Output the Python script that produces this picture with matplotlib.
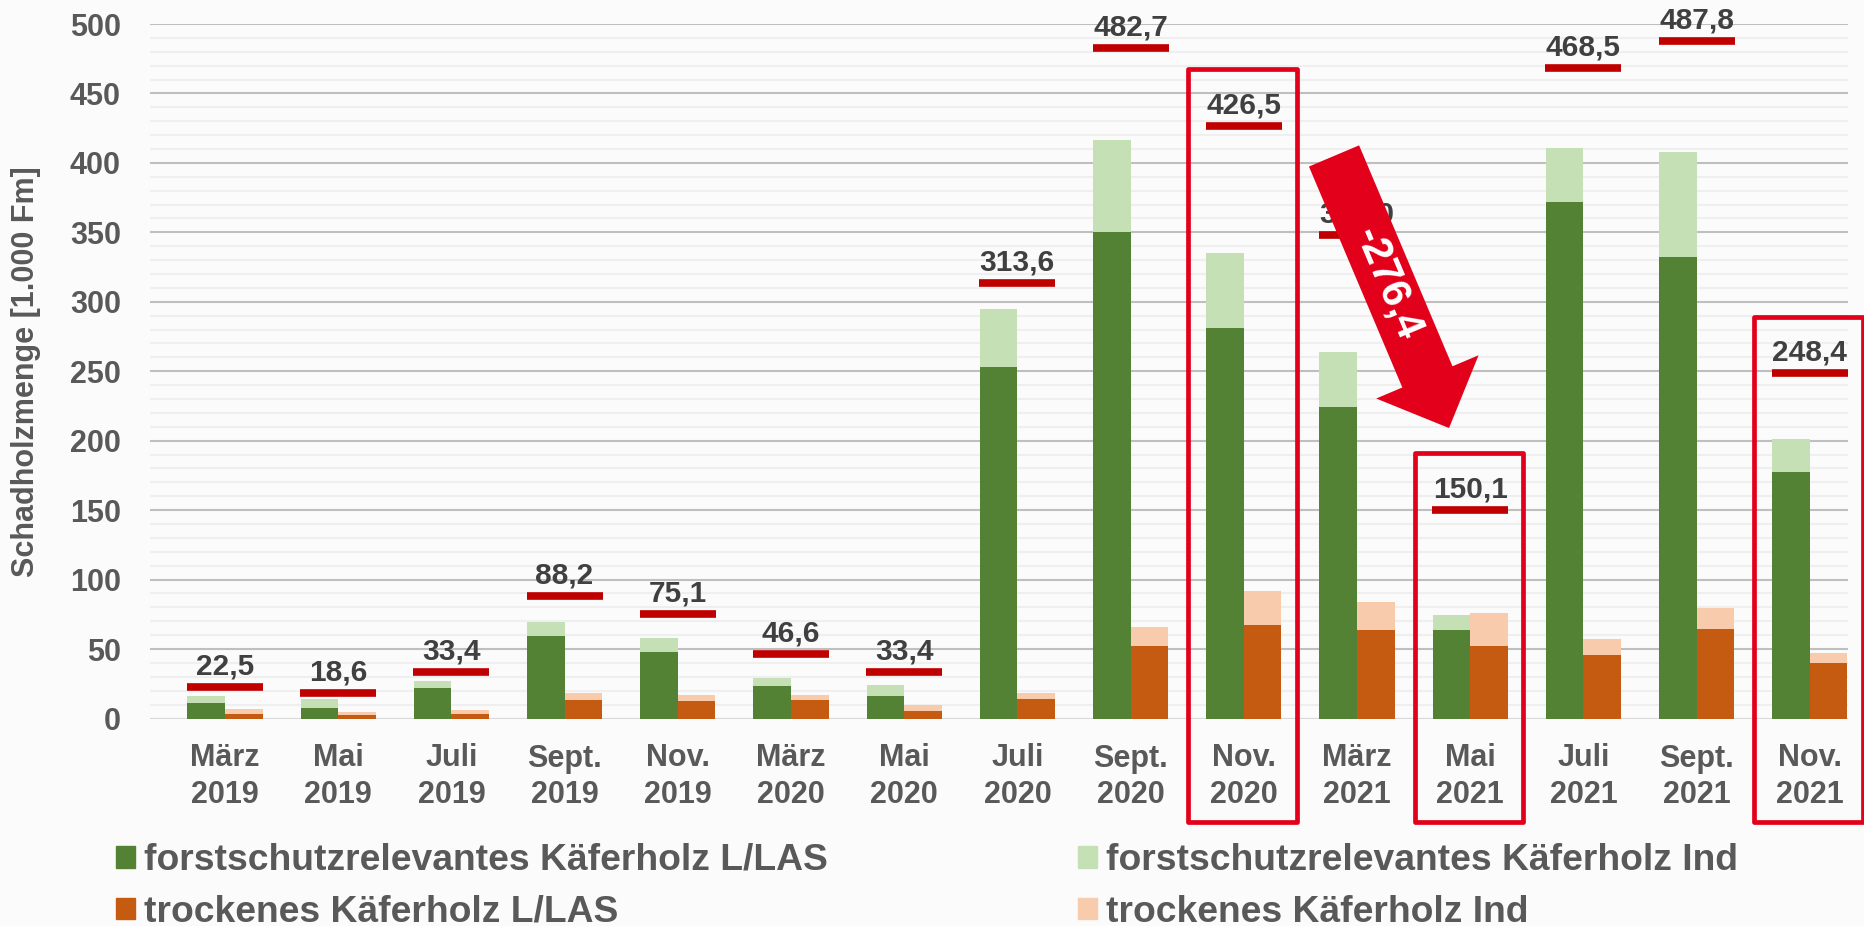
# Schadholzmenge Käferholz 2019-2021
import numpy as np
import matplotlib
matplotlib.use('Agg')
import matplotlib.pyplot as plt
import matplotlib.patches as mpatches

plt.rcParams['font.family'] = ['Liberation Sans', 'DejaVu Sans']
plt.rcParams['font.weight'] = 'bold'

# Data in 1.000 Fm
months = ['März\n2019', 'Mai\n2019', 'Juli\n2019', 'Sept.\n2019', 'Nov.\n2019',
          'März\n2020', 'Mai\n2020', 'Juli\n2020', 'Sept.\n2020', 'Nov.\n2020',
          'März\n2021', 'Mai\n2021', 'Juli\n2021', 'Sept.\n2021', 'Nov.\n2021']
fs_las = [11, 7.5, 22, 59.5, 48, 23.5, 16.5, 253, 350, 281, 224, 64, 372, 332, 177.5]
fs_ind = [5, 6.6, 5, 10, 10, 6, 7.5, 42, 66.5, 54, 40, 10.5, 39, 76, 23.5]
tr_las = [3.5, 2.3, 3, 13.5, 12.5, 13, 5.5, 14, 52, 67, 64, 52.5, 45.5, 64.5, 40]
tr_ind = [3, 2.2, 3.4, 5.2, 4.6, 4.1, 3.9, 4.6, 14.2, 24.5, 20, 23.1, 12, 15.3, 7.4]
totals = [22.5, 18.6, 33.4, 88.2, 75.1, 46.6, 33.4, 313.6, 482.7, 426.5,
          348.0, 150.1, 468.5, 487.8, 248.4]
highlight = [9, 11, 14]
drop_label = '-276,4'

legend_labels = ['forstschutzrelevantes Käferholz L/LAS', 'trockenes Käferholz L/LAS',
                 'forstschutzrelevantes Käferholz Ind', 'trockenes Käferholz Ind']

c_fs_las, c_fs_ind = '#548235', '#C5E0B4'
c_tr_las, c_tr_ind = '#C55A11', '#F8CBAD'
c_total = '#C00000'
c_mark = '#E2001A'
bg = '#FBFBFB'

fig = plt.figure(figsize=(18.64, 9.26), dpi=100, facecolor=bg)
ax = fig.add_axes([150 / 1864, 1 - 718.5 / 926, 1698 / 1864, (718.5 - 24) / 926])
ax.set_facecolor(bg)

x = np.arange(len(months))
w = 0.333
fs_las = np.array(fs_las)
tr_las = np.array(tr_las)
ax.bar(x - w / 2, fs_las, w, color=c_fs_las, zorder=2)
ax.bar(x - w / 2, fs_ind, w, bottom=fs_las, color=c_fs_ind, zorder=2)
ax.bar(x + w / 2, tr_las, w, color=c_tr_las, zorder=2)
ax.bar(x + w / 2, tr_ind, w, bottom=tr_las, color=c_tr_ind, zorder=2)

# totals as red markers with labels
ax.hlines(totals, x - 0.335, x + 0.335, color=c_total, lw=5.5, zorder=4)
for xi, t in zip(x, totals):
    ax.annotate(f'{t:.1f}'.replace('.', ','), (xi, t), xytext=(0, 9),
                textcoords='offset points', ha='center', va='baseline',
                fontsize=21.5, color='#404040', fontweight='bold', zorder=5,
                annotation_clip=False)

# highlight boxes
for i in highlight:
    top = totals[i] + 41
    rect = mpatches.Rectangle((i - 0.49, -74.5), 0.96, top + 74.5, fill=False,
                              edgecolor=c_mark, lw=3.4, joinstyle='round',
                              clip_on=False, zorder=5)
    ax.add_patch(rect)

# big arrow
arrow = mpatches.FancyArrowPatch((9.797, 405), (10.813, 209.1),
                                 arrowstyle=mpatches.ArrowStyle.Simple(head_length=0.5, head_width=1.0, tail_width=0.49),
                                 mutation_scale=80, color=c_mark, lw=0,
                                 shrinkA=0, shrinkB=0, zorder=6, clip_on=False)
ax.add_patch(arrow)
ax.text(10.265, 313.5, drop_label, rotation=-67.1, rotation_mode='anchor',
        ha='center', va='center', color='white', fontsize=30,
        fontweight='bold', zorder=7)

# axes styling
ax.set_xlim((150 - 225) / 113.2, (1848 - 225) / 113.2)
ax.set_ylim(0, 500)
ax.set_yticks(np.arange(0, 501, 50))
ax.set_yticks(np.arange(0, 501, 10), minor=True)
ax.set_xticks(x)
ax.set_xticklabels(months)
for t in ax.get_xticklabels():
    t.set_linespacing(1.3)
ax.tick_params(axis='both', which='both', length=0, labelsize=22, labelcolor='#595959')
ax.tick_params(axis='y', pad=21)
ax.tick_params(axis='x', pad=18)
ax.grid(axis='y', which='major', color='#BFBFBF', lw=1.5, zorder=0)
ax.grid(axis='y', which='minor', color='#EFEFEF', lw=1.5, zorder=0)
ax.axhline(0, color='#D9D9D9', lw=2.2, zorder=1)
ax.set_axisbelow(True)
for s in ax.spines.values():
    s.set_visible(False)

fig.text(26 / 1864, 0.599, 'Schadholzmenge [1.000 Fm]', rotation=90,
         ha='center', va='center', fontsize=22, color='#595959', fontweight='bold')

handles = [mpatches.Patch(color=c_fs_las), mpatches.Patch(color=c_tr_las),
           mpatches.Patch(color=c_fs_ind), mpatches.Patch(color=c_tr_ind)]
fig.legend(handles, legend_labels, ncol=2, loc='upper left',
           bbox_to_anchor=(116 / 1864, 1 - 843 / 926), frameon=False,
           fontsize=26.8, handlelength=0.51, handleheight=0.51,
           handletextpad=0.25, columnspacing=6.7, labelspacing=0.45,
           borderpad=0, borderaxespad=0, labelcolor='#595959')

fig.savefig('out.png', dpi=100, facecolor=bg)
